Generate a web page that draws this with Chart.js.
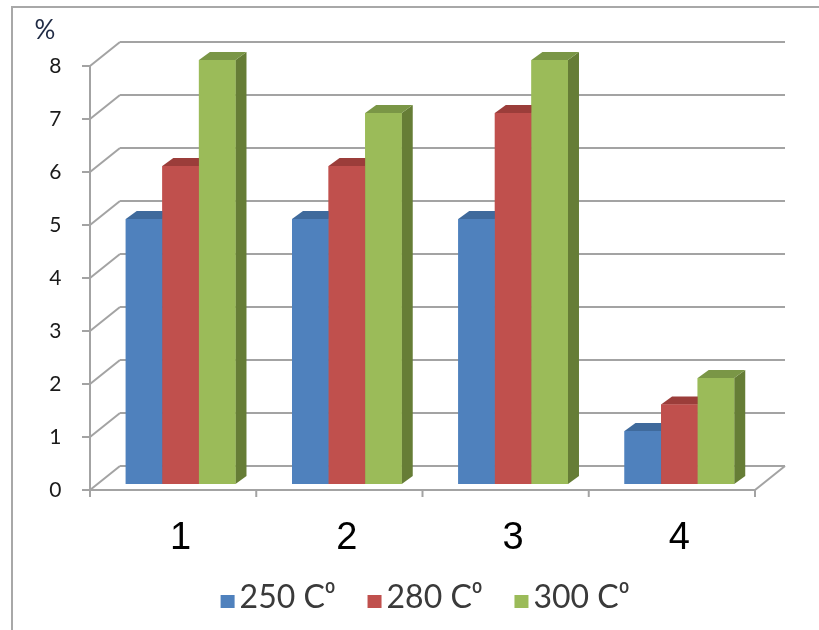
<!DOCTYPE html>
<html>
<head>
<meta charset="utf-8">
<script src="https://cdn.jsdelivr.net/npm/chart.js@4.4.1/dist/chart.umd.min.js"></script>
<style>
  html, body { margin: 0; padding: 0; background: #ffffff; }
  #wrap { width: 819px; height: 630px; }
</style>
</head>
<body>
<div id="wrap"><canvas id="c" width="819" height="630"></canvas></div>
<script>
const categories = ['1', '2', '3', '4'];
const series250 = [5, 5, 5, 1];
const series280 = [6, 6, 7, 1.5];
const series300 = [8, 7, 8, 2];
const seriesLabels = ['250 C\u2070', '280 C\u2070', '300 C\u2070'];
const yTickValues = [0, 1, 2, 3, 4, 5, 6, 7, 8];
const axisUnit = '%';

const frontColors = ['#4F81BD', '#C0504D', '#9BBB59'];
const topColors = ['#3F6A9C', '#9B3D3A', '#7A9646'];
const sideColors = ['#3A6190', '#8C3835', '#667D36'];

// 3D geometry (pixels)
const FRONT = { dx: -7.5, dy: 6 };
const BACK = { dx: 22.5, dy: -18 };
const BAR_DEPTH = { dx: 11, dy: -8 };
const GRID_COLOR = '#A3A3A3';

function line(ctx, x1, y1, x2, y2) {
  ctx.beginPath(); ctx.moveTo(x1, y1); ctx.lineTo(x2, y2); ctx.stroke();
}

const threeD = {
  id: 'threeD',
  beforeDraw(chart) {
    const ctx = chart.ctx;
    ctx.save();
    ctx.fillStyle = '#fff';
    ctx.fillRect(0, 0, chart.width, chart.height);
    ctx.strokeStyle = '#A8A8A8';
    ctx.lineWidth = 2;
    ctx.beginPath();
    ctx.moveTo(12, chart.height);
    ctx.lineTo(12, 7);
    ctx.lineTo(chart.width, 7);
    ctx.stroke();
    // unit label
    ctx.fillStyle = '#1F2A44';
    ctx.font = '26px Lato';
    ctx.textAlign = 'center';
    ctx.textBaseline = 'middle';
    ctx.fillText(axisUnit, 45, 31);
    ctx.restore();
  },
  beforeDatasetsDraw(chart) {
    const ctx = chart.ctx, ys = chart.scales.y, xs = chart.scales.x, ca = chart.chartArea;
    ctx.save();
    ctx.strokeStyle = GRID_COLOR;
    ctx.lineWidth = 2;
    const L = ca.left + FRONT.dx, R = ca.right + FRONT.dx;
    const sx = BACK.dx - FRONT.dx, sy = BACK.dy - FRONT.dy;
    yTickValues.forEach(v => {
      const py = ys.getPixelForValue(v);
      const fy = py + FRONT.dy;
      line(ctx, L - 8, fy, L, fy);
      line(ctx, L, fy, L + sx, fy + sy);
      line(ctx, L + sx, py + BACK.dy, ca.right + BACK.dx, py + BACK.dy);
    });
    const top = ys.getPixelForValue(yTickValues[yTickValues.length - 1]) + FRONT.dy;
    const y0 = ys.getPixelForValue(0) + FRONT.dy;
    line(ctx, L, top, L, y0);
    line(ctx, L, y0, R, y0);
    line(ctx, R, y0, R + sx, y0 + sy);
    const n = categories.length;
    const step = n > 1 ? xs.getPixelForValue(1) - xs.getPixelForValue(0) : ca.right - ca.left;
    for (let i = 0; i <= n; i++) {
      const px = xs.getPixelForValue(0) - step / 2 + i * step + FRONT.dx;
      line(ctx, px, y0, px, y0 + 7);
    }
    ctx.restore();
  },
  afterDatasetsDraw(chart) {
    const ctx = chart.ctx;
    const metas = chart.data.datasets.map((d, i) => chart.getDatasetMeta(i));
    ctx.save();
    for (let j = 0; j < categories.length; j++) {
      metas.forEach((meta, i) => {
        const el = meta.data[j];
        const p = el.getProps(['x', 'y', 'base', 'width'], true);
        const l = p.x - p.width / 2, r = p.x + p.width / 2;
        const t = Math.min(p.y, p.base), b = Math.max(p.y, p.base);
        // side
        ctx.fillStyle = sideColors[i];
        ctx.beginPath();
        ctx.moveTo(r, t); ctx.lineTo(r + BAR_DEPTH.dx, t + BAR_DEPTH.dy);
        ctx.lineTo(r + BAR_DEPTH.dx, b + BAR_DEPTH.dy); ctx.lineTo(r, b);
        ctx.closePath(); ctx.fill();
        // top
        ctx.fillStyle = topColors[i];
        ctx.beginPath();
        ctx.moveTo(l, t); ctx.lineTo(l + BAR_DEPTH.dx, t + BAR_DEPTH.dy);
        ctx.lineTo(r + BAR_DEPTH.dx, t + BAR_DEPTH.dy); ctx.lineTo(r, t);
        ctx.closePath(); ctx.fill();
        // front
        ctx.fillStyle = frontColors[i];
        ctx.fillRect(l, t, r - l, b - t);
      });
    }
    ctx.restore();
  },
  afterDraw(chart) {
    // legend
    const ctx = chart.ctx;
    ctx.save();
    ctx.font = '32px Lato';
    ctx.textBaseline = 'alphabetic';
    ctx.textAlign = 'left';
    const box = 14, gap = 5, itemGap = 32;
    const items = chart.data.datasets.map((d, i) => ({ text: d.label, color: frontColors[i], w: ctx.measureText(d.label).width }));
    const total = items.reduce((s, it) => s + box + gap + it.w, 0) + itemGap * (items.length - 1);
    let x = 425 - total / 2;
    const baseY = 608;
    items.forEach(it => {
      ctx.fillStyle = it.color;
      ctx.fillRect(x, baseY - 13, box, 13);
      x += box + gap;
      ctx.fillStyle = '#3A3A3A';
      ctx.fillText(it.text, x, baseY);
      x += it.w + itemGap;
    });
    ctx.restore();
  }
};

new Chart(document.getElementById('c'), {
  type: 'bar',
  data: {
    labels: categories,
    datasets: [
      { label: seriesLabels[0], data: series250, backgroundColor: frontColors[0] },
      { label: seriesLabels[1], data: series280, backgroundColor: frontColors[1] },
      { label: seriesLabels[2], data: series300, backgroundColor: frontColors[2] }
    ]
  },
  options: {
    responsive: false,
    animation: false,
    events: [],
    layout: { padding: { top: 60, right: 56.5, bottom: 0, left: 0 } },
    datasets: { bar: { categoryPercentage: 0.66, barPercentage: 1.0 } },
    plugins: { legend: { display: false }, tooltip: { enabled: false } },
    scales: {
      x: {
        grid: { display: false, drawTicks: false },
        border: { display: false },
        ticks: { color: '#000', font: { family: 'Liberation Sans', size: 38 }, padding: 32 },
        afterFit(s) { s.height = 146; }
      },
      y: {
        min: 0, max: 8,
        afterBuildTicks(s) { s.ticks = yTickValues.map(v => ({ value: v })); },
        grid: { display: false, drawTicks: false },
        border: { display: false },
        ticks: { color: '#1A1A1A', font: { family: 'Lato', size: 21 }, padding: 36, labelOffset: 6 },
        afterFit(s) { s.width = 97.5; }
      }
    }
  },
  plugins: [threeD]
});
</script>
</body>
</html>
